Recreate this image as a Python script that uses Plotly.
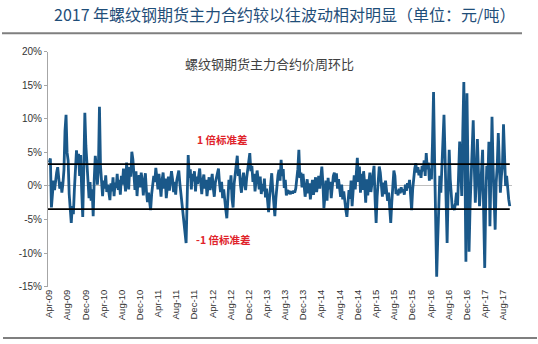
import pandas as pd
import plotly.graph_objects as go

# Weekly change (%) of the rebar main futures contract, one list per calendar year
chg_2009 = [3.5, 4.1, -3.2, -1.5, 0.8, -0.6, 1.2, 2.0, 2.8, 1.5, -0.4, 0.6, -1.0, 0.3, 2.4, 8.2, 10.6, 5.0, 3.8, -1.2,
            -3.8, -5.5, -3.0, -4.2, -0.5, 2.1, 5.3, 3.2, 4.8, 1.5, 4.6, -0.8, -4.6, 2.5, 10.9, 6.0, 3.5, 1.0, -1.8]
chg_2010 = [0.6,
            -2.2, -0.5, -4.5, 1.0, 4.5, 3.0, 0.2, 2.5, 11.8, 3.0, 0.5, -1.5, 0.8, -0.4, 1.6, -0.9, 0.2, -1.2, -2.1, 0.4,
            -0.8, 1.3, -1.5, 0.5, -0.3, 1.8, -0.6, 0.9, -1.3, 1.5, 0.2, 2.6, 1.2, -0.8, 3.5, 1.0, -0.5, 2.8, 1.4, 5.1,
            4.0, 1.8, -0.6, 2.2, -1.5, 0.9, 1.6, -0.2, 2.0, 0.8, -1.4, 0.5]
chg_2011 = [1.9, -0.8, -2.4, -1.0, -2.8, -3.6, -1.2, 0.4,
            1.5, 0.6, 2.7, 1.2, -0.5, 1.8, 0.3, -1.6, 0.9, 2.0, -0.4, 1.1, -1.8, 0.2, 1.4, -0.7, 0.5, 2.2, 1.0, -0.9,
            0.6, -1.3, 0.8, 1.5, 2.3, 0.4, -1.0, -2.5, -4.0, -5.2, -6.8, -8.5, -2.0, 4.6, 1.2, 2.5, -0.5, 1.8, 0.7, 2.2,
            -0.8, 1.4, 0.3, 1.9]
chg_2012 = [2.6, 0.5, -1.2, 0.8, 1.7, -0.4, 0.9, -1.5, 0.2, 1.3, -0.6, 0.7, 1.8, -0.3, -1.6, 0.5,
            1.2, 2.0, 2.6, 0.4, -0.9, 0.6, -1.8, -0.5, -2.6, -3.5, -4.8, -1.2, 0.9, -0.5, 1.6, -2.0, -3.2, 0.3, 2.1, 3.4,
            4.5, 1.5, 2.5, 0.2, -1.0, 0.8, 2.0, 0.5, -0.6, 1.2, 2.6, 3.5, 4.9, 2.2, 3.0, 0.6]
chg_2013 = [1.8, -0.8, 0.9, 2.3,
            1.0, -0.5, 1.4, -1.2, 0.3, -0.8, 1.1, -1.7, -0.4, -2.2, -3.9, -1.5, 0.7, 1.9, -0.6, -2.5, -4.5, -1.8, 0.5, 1.6,
            2.4, 0.8, 3.9, 1.5, 2.5, -0.3, 0.9, -1.4, -0.6, -1.0, -0.9, -1.2, -0.8, -1.1, -0.7, -1.0, -0.4, 0.8, 2.5, 5.4,
            1.2, 2.0, -0.2, 1.8, 0.5, -1.6, -0.3, 1.0]
chg_2014 = [-1.1, 0.4, -2.0, -0.6, 0.9, -1.3, 0.2, 1.3, -0.9, 0.6, 1.5, -0.4,
            1.8, 2.9, 0.5, -3.3, -1.5, 0.8, -2.2, 1.2, -0.5, 0.6, -1.8, 0.3, 1.5, 2.0, 0.6, 1.9, -0.4, 1.0, -0.8, -1.6,
            0.2, -2.0, -0.8, -2.8, -3.6, -4.6, -2.4, -0.6, -1.9, 0.8, -3.0, -1.2, 1.6, -0.5, 2.8, 4.2, 0.6, 2.9, -1.0, 1.8]
chg_2015 = [-0.6, 2.2, 0.4, -2.5, 1.0, -1.4, 0.5, 2.0, -0.9, 0.8, 1.9, 3.0, -2.0, -5.5, -1.5, 1.2, 2.9, 2.0, 0.3, -1.6,
            0.5, -1.2, 0.8, -0.6, -2.2, -1.0, -3.2, -5.5, -2.4, 0.6, 2.3, 1.5, -1.2, -0.6, -1.4, -0.4, -1.1, -0.2, -0.9, -0.5,
            -1.3, 0.2, -0.7, 0.4, -0.3, 0.9, -1.0, -3.6, -0.5, 1.8, 2.6, 3.4]
chg_2016 = [2.0, 2.8, 1.6, 2.4, 1.2, 3.0, 2.2, 3.8,
            1.5, 4.9, 2.5, 3.5, 0.8, 2.6, 1.0, 6.5, 14.0, 4.0, -6.0, -13.5, -8.0, -2.0, 1.5, -1.0, 2.5, 5.0, 10.6, 4.5,
            -2.0, -8.5, -1.0, 5.4, 1.0, -2.2, -3.5, -2.8, -3.6, -2.5, -1.0, -2.9, 1.5, 6.6, 2.5, -1.5, 8.0, 15.5, 4.0, -11.3,
            13.8, 2.0, -9.8, -3.0, 1.5]
chg_2017 = [4.5, 9.8, 3.0, -2.5, 1.0, 7.0, 2.0, -3.0, -0.5, 2.5, 5.4, -4.0, -12.2, -2.0, 3.0,
            1.0, 6.6, -6.0, 1.5, 10.3, 3.0, -1.5, -6.5, 0.5, 3.0, 7.9, 2.0, -1.0, 1.5, 3.0, 9.2, 2.5, 0.0, 1.5, -0.5,
            -2.0, -3.0]

# +/- one standard deviation band
band_upper = 3.25
band_lower = -3.45

y_ticks = [-15, -10, -5, 0, 5, 10, 15, 20]
y_labels = ["-15%", "-10%", "-5%", "0%", "5%", "10%", "15%", "20%"]

series_name = "螺纹钢期货主力合约价周环比"
title_text = "2017 年螺纹钢期货主力合约较以往波动相对明显（单位：元/吨）"
upper_label = "1 倍标准差"
lower_label = "-1 倍标准差"

values = (chg_2009 + chg_2010 + chg_2011 + chg_2012 + chg_2013
          + chg_2014 + chg_2015 + chg_2016 + chg_2017)
dates = pd.date_range("2009-04-03", periods=len(values), freq="7D")
x_ticks = pd.date_range("2009-04-01", "2017-08-01", freq="4MS")
x_range = ["2009-03-25", "2017-09-30"]

W, H = 538, 344
px = lambda v: v / W
py = lambda v: 1 - v / H

fig = go.Figure()
fig.add_trace(go.Scatter(
    x=dates, y=values, mode="lines",
    line=dict(color="#1A5889", width=2.8),
    showlegend=False, hoverinfo="skip",
))
for level in (band_upper, band_lower):
    fig.add_trace(go.Scatter(
        x=[x_range[0], dates[-1]], y=[level, level], mode="lines",
        line=dict(color="#000000", width=1.8),
        showlegend=False, hoverinfo="skip",
    ))

fig.update_layout(
    width=W, height=H,
    margin=dict(l=0, r=0, t=0, b=0),
    paper_bgcolor="white", plot_bgcolor="white",
    font=dict(family="Liberation Sans, Arial, sans-serif", color="#333333"),
    xaxis=dict(
        domain=[px(48), px(512)],
        type="date", range=x_range,
        tickvals=x_ticks, tickformat="%b-%y", tickangle=-90,
        tickfont=dict(size=9.5, color="#333333"),
        showgrid=False, showline=False, zeroline=False,
        ticks="", automargin=False,
    ),
    yaxis=dict(
        domain=[py(286.7), py(51.7)],
        range=[-15, 20],
        tickvals=y_ticks, ticktext=y_labels,
        tickfont=dict(size=10, color="#333333"),
        showgrid=False, showline=True, linecolor="#A6A6A6", linewidth=1,
        ticks="outside", ticklen=3, tickcolor="#A6A6A6",
        zeroline=True, zerolinecolor="#BFBFBF", zerolinewidth=1,
        automargin=False,
    ),
    shapes=[
        dict(type="line", xref="paper", yref="paper",
             x0=px(2), x1=px(522), y0=py(33.3), y1=py(33.3),
             line=dict(color="#7F7F7F", width=2)),
        dict(type="line", xref="paper", yref="paper",
             x0=px(3), x1=px(537), y0=py(338), y1=py(338),
             line=dict(color="#7F7F7F", width=2)),
    ],
    annotations=[
        dict(text=title_text, xref="paper", yref="paper",
             x=px(284.5), y=py(14), xanchor="center", yanchor="middle",
             showarrow=False,
             font=dict(family="Noto Sans CJK SC", size=16, color="#1F4E79")),
        dict(text=series_name, xref="paper", yref="paper",
             x=px(269), y=py(63), xanchor="center", yanchor="middle",
             showarrow=False,
             font=dict(family="Noto Sans CJK SC", size=13, color="#404040")),
        dict(text="<b>" + upper_label + "</b>", xref="paper", yref="paper",
             x=px(222), y=py(139), xanchor="center", yanchor="middle",
             showarrow=False,
             font=dict(family="Noto Sans CJK SC", size=10.5, color="#E0242B")),
        dict(text="<b>" + lower_label + "</b>", xref="paper", yref="paper",
             x=px(222.5), y=py(239), xanchor="center", yanchor="middle",
             showarrow=False,
             font=dict(family="Noto Sans CJK SC", size=10.5, color="#E0242B")),
    ],
)

fig.write_html("out.html")
